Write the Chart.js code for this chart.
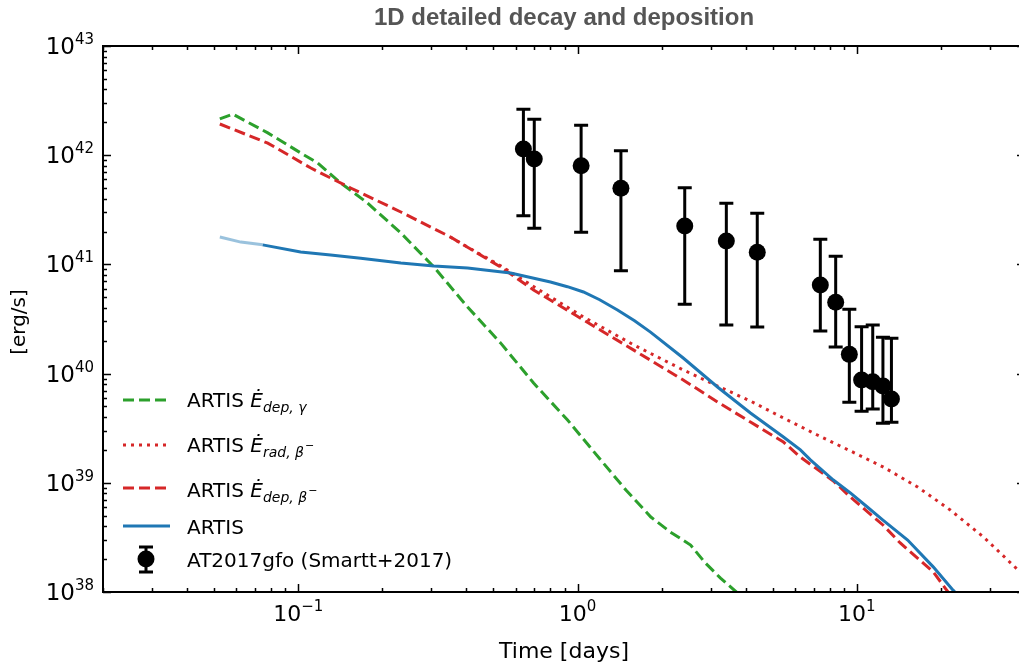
<!DOCTYPE html>
<html>
<head>
<meta charset="utf-8">
<title>1D detailed decay and deposition</title>
<script src="https://cdn.jsdelivr.net/npm/chart.js@4.4.1/dist/chart.umd.min.js"></script>
<style>
  html, body { margin: 0; padding: 0; background: #fff; overflow: hidden; }
  #wrap { width: 1040px; height: 669px; }
</style>
</head>
<body>
<div id="wrap"><canvas id="myChart" width="1040" height="669"></canvas></div>
<script>
// ARTIS gamma-ray deposition (days, erg/s)
const gammaTime = [0.0524, 0.0583, 0.0778, 0.102, 0.1175, 0.142, 0.177, 0.233, 0.306, 0.404, 0.53, 0.696, 0.921, 1.21, 1.49, 1.83, 2.15, 2.54, 2.87, 3.25, 3.77];
const gammaLum = [2.15e42, 2.38e42, 1.60e42, 1.05e42, 8.48e41, 5.56e41, 3.65e41, 1.94e41, 9.47e40, 4.07e40, 1.91e40, 8.20e39, 3.76e39, 1.62e39, 8.59e38, 4.86e38, 3.54e38, 2.69e38, 1.84e38, 1.34e38, 9.6e37];

// ARTIS beta-minus emitted (radioactive) power
const betaRadTime = [0.35, 0.53, 0.70, 1.05, 1.59, 2.39, 3.17, 4.16, 5.46, 7.22, 9.48, 12.4, 16.5, 21.6, 28.4, 37.5, 42];
const betaRadLum = [1.78e41, 9.7e40, 6.21e40, 3.30e40, 1.83e40, 1.08e40, 7.70e39, 5.61e39, 3.92e39, 2.74e39, 1.96e39, 1.40e39, 9.16e38, 5.63e38, 3.19e38, 1.62e38, 1.30e38];

// ARTIS beta-minus deposition
const betaDepTime = [0.0524, 0.0778, 0.111, 0.154, 0.233, 0.351, 0.53, 0.696, 1.05, 1.59, 2.39, 3.17, 4.16, 5.46, 6.28, 8.24, 9.48, 12.4, 14.3, 18.8, 21.6];
const betaDepLum = [1.93e42, 1.29e42, 7.63e41, 5.01e41, 3.02e41, 1.78e41, 9.47e40, 5.83e40, 3.10e40, 1.64e40, 8.74e39, 5.50e39, 3.60e39, 2.36e39, 1.72e39, 1.04e39, 7.41e38, 4.11e38, 2.81e38, 1.52e38, 9.4e37];

// ARTIS total
const artisTime = [0.0524, 0.0623, 0.0746, 0.102, 0.1306, 0.1674, 0.233, 0.306, 0.404, 0.576, 0.80, 0.92, 1.05, 1.20, 1.39, 1.60, 1.825, 2.39, 3.17, 4.16, 5.46, 6.28, 6.82, 8.24, 9.48, 10.9, 12.4, 15.2, 18.8, 22.1, 23.5];
const artisLum = [1.78e41, 1.60e41, 1.51e41, 1.30e41, 1.22e41, 1.14e41, 1.03e41, 9.67e40, 9.27e40, 8.34e40, 6.90e40, 6.25e40, 5.59e40, 4.75e40, 3.82e40, 3.05e40, 2.40e40, 1.39e40, 7.54e39, 4.36e39, 2.63e39, 2.00e39, 1.62e39, 1.06e39, 8.07e38, 6.0e38, 4.56e38, 2.99e38, 1.69e38, 1.04e38, 8.8e37];
const artisFadedUntil = 0.07;

// AT2017gfo bolometric (Smartt+2017)
const obsTime = [0.64, 0.70, 1.03, 1.43, 2.42, 3.41, 4.40, 7.40, 8.40, 9.40, 10.4, 11.4, 12.4, 13.3];
const obsLum = [1.14e42, 9.23e41, 8.02e41, 4.98e41, 2.25e41, 1.64e41, 1.29e41, 6.48e40, 4.50e40, 1.50e40, 8.74e39, 8.43e39, 7.70e39, 5.85e39];
const obsLumHigh = [2.63e42, 2.13e42, 1.88e42, 1.10e42, 5.04e41, 3.63e41, 2.94e41, 1.70e41, 1.19e41, 3.88e40, 2.69e40, 2.79e40, 2.15e40, 2.11e40];
const obsLumLow = [2.79e41, 2.14e41, 1.97e41, 8.75e40, 4.31e40, 2.79e40, 2.67e40, 2.45e40, 1.75e40, 5.46e39, 4.52e39, 4.74e39, 3.51e39, 3.58e39];

// axes
const xRange = [0.02, 40];
const yRange = [1e38, 1e43];
const xMajorTicks = [0.1, 1, 10];
const xTickExp = ['\u22121', '0', '1'];
const yMajorTicks = [1e38, 1e39, 1e40, 1e41, 1e42, 1e43];
const yTickExp = ['38', '39', '40', '41', '42', '43'];

const FONT = '"DejaVu Sans", sans-serif';

function pairs(xs, ys) {
  return xs.map((x, i) => ({ x: x, y: ys[i] }));
}

// minor ticks k*10^n inside a range
function minorTicks(min, max) {
  let out = [];
  for (let n = Math.floor(Math.log10(min)) - 1; n <= Math.ceil(Math.log10(max)); n++) {
    for (let k = 2; k <= 9; k++) {
      let v = k * Math.pow(10, n);
      if (v >= min * 0.999 && v <= max * 1.001) out.push(v);
    }
  }
  return out;
}

// "10" with a raised exponent
function drawPow(ctx, exp, x, baseY, align, baseSize, expSize, expRise) {
  ctx.font = baseSize + 'px ' + FONT;
  const wb = ctx.measureText('10').width;
  ctx.font = expSize + 'px ' + FONT;
  const we = ctx.measureText(exp).width;
  let x0 = align === 'right' ? x - wb - we : x - (wb + we) / 2;
  ctx.textAlign = 'left';
  ctx.font = baseSize + 'px ' + FONT;
  ctx.fillText('10', x0, baseY);
  ctx.font = expSize + 'px ' + FONT;
  ctx.fillText(exp, x0 + wb, baseY - expRise);
}

// legend label like  ARTIS E-dot_{sub}^{-}
function drawMathLabel(ctx, x, y, sub, minus) {
  ctx.textAlign = 'left';
  ctx.font = '20px ' + FONT;
  ctx.fillText('ARTIS ', x, y);
  let cx = x + ctx.measureText('ARTIS ').width;
  ctx.font = 'italic 20px ' + FONT;
  ctx.fillText('\u0116', cx, y);
  cx += ctx.measureText('\u0116').width;
  ctx.font = 'italic 14px ' + FONT;
  ctx.fillText(sub, cx, y + 5);
  cx += ctx.measureText(sub).width;
  if (minus) {
    ctx.font = '11px ' + FONT;
    ctx.fillText('\u2212', cx + 1, y - 3);
  }
}

const decor = {
  id: 'decor',
  beforeDatasetsDraw(chart) {
    const { ctx, scales: { x, y } } = chart;
    ctx.save();
    ctx.beginPath();
    ctx.rect(chart.chartArea.left, chart.chartArea.top, chart.chartArea.width, chart.chartArea.height);
    ctx.clip();
    ctx.strokeStyle = '#000';
    ctx.lineWidth = 3;
    obsTime.forEach((t, i) => {
      const px = x.getPixelForValue(t);
      const top = y.getPixelForValue(obsLumHigh[i]);
      const bot = y.getPixelForValue(obsLumLow[i]);
      ctx.beginPath();
      ctx.moveTo(px, top); ctx.lineTo(px, bot);
      ctx.moveTo(px - 7, top); ctx.lineTo(px + 7, top);
      ctx.moveTo(px - 7, bot); ctx.lineTo(px + 7, bot);
      ctx.stroke();
    });
    ctx.restore();
  },
  afterDraw(chart) {
    const { ctx, chartArea: a, scales: { x, y } } = chart;
    ctx.save();
    ctx.fillStyle = '#000';
    ctx.strokeStyle = '#000';

    // frame
    ctx.lineWidth = 2;
    ctx.strokeRect(a.left, a.top, a.right - a.left, a.bottom - a.top);

    // inward ticks on all four sides
    ctx.lineWidth = 1.5;
    ctx.beginPath();
    const xt = xMajorTicks.map(v => [v, 8]).concat(minorTicks(xRange[0], xRange[1]).map(v => [v, 4]));
    xt.forEach(([v, len]) => {
      const px = Math.round(x.getPixelForValue(v)) + 0.5;
      ctx.moveTo(px, a.bottom); ctx.lineTo(px, a.bottom - len);
      ctx.moveTo(px, a.top); ctx.lineTo(px, a.top + len);
    });
    const yt = yMajorTicks.map(v => [v, 8]).concat(minorTicks(yRange[0], yRange[1]).map(v => [v, 4]));
    yt.forEach(([v, len]) => {
      const py = Math.round(y.getPixelForValue(v)) + 0.5;
      ctx.moveTo(a.left, py); ctx.lineTo(a.left + len, py);
      ctx.moveTo(a.right, py); ctx.lineTo(a.right - len, py);
    });
    ctx.stroke();

    // tick labels
    ctx.fillStyle = '#000';
    xMajorTicks.forEach((v, i) => {
      drawPow(ctx, xTickExp[i], x.getPixelForValue(v), a.bottom + 29, 'center', 22, 15, 10);
    });
    yMajorTicks.forEach((v, i) => {
      drawPow(ctx, yTickExp[i], a.left - 9, y.getPixelForValue(v) + 8, 'right', 23, 15, 10);
    });

    // axis titles
    ctx.font = '22px ' + FONT;
    ctx.textAlign = 'center';
    ctx.fillText('Time [days]', (a.left + a.right) / 2, 658);
    ctx.save();
    ctx.translate(25, 322);
    ctx.rotate(-Math.PI / 2);
    ctx.font = '20px ' + FONT;
    ctx.fillText('[erg/s]', 0, 0);
    ctx.restore();

    // title
    ctx.fillStyle = '#555555';
    ctx.font = 'bold 24px "Liberation Sans", Arial, sans-serif';
    ctx.textAlign = 'center';
    ctx.fillText('1D detailed decay and deposition', (a.left + a.right) / 2, 25);

    // legend
    const ds = chart.data.datasets;
    const rows = [
      { d: ds[4], ly: 400 },
      { d: ds[3], ly: 445 },
      { d: ds[2], ly: 488 },
      { d: ds[1], ly: 526 }
    ];
    rows.forEach(r => {
      ctx.save();
      ctx.strokeStyle = r.d.borderColor;
      ctx.lineWidth = r.d.borderWidth;
      ctx.setLineDash(r.d.borderDash || []);
      ctx.beginPath();
      ctx.moveTo(123, r.ly); ctx.lineTo(170, r.ly);
      ctx.stroke();
      ctx.restore();
    });
    ctx.fillStyle = '#000';
    drawMathLabel(ctx, 187, 407, 'dep, \u03b3', false);
    drawMathLabel(ctx, 187, 452, 'rad, \u03b2', true);
    drawMathLabel(ctx, 187, 497, 'dep, \u03b2', true);
    ctx.font = '20px ' + FONT;
    ctx.textAlign = 'left';
    ctx.fillText('ARTIS', 187, 534);
    ctx.fillText('AT2017gfo (Smartt+2017)', 187, 567);
    // errorbar marker glyph
    ctx.lineWidth = 3;
    ctx.beginPath();
    ctx.moveTo(146, 547); ctx.lineTo(146, 572);
    ctx.moveTo(139, 547); ctx.lineTo(153, 547);
    ctx.moveTo(139, 572); ctx.lineTo(153, 572);
    ctx.stroke();
    ctx.beginPath();
    ctx.arc(146, 559, 8.5, 0, Math.PI * 2);
    ctx.fill();

    ctx.restore();
  }
};

const myChart = new Chart(document.getElementById('myChart'), {
  type: 'line',
  data: {
    datasets: [
      {
        label: 'AT2017gfo (Smartt+2017)',
        data: pairs(obsTime, obsLum),
        showLine: false,
        pointRadius: 8.5,
        pointBackgroundColor: '#000',
        pointBorderWidth: 0,
        order: 0
      },
      {
        label: 'ARTIS',
        data: pairs(artisTime, artisLum),
        borderColor: '#1f77b4',
        borderWidth: 3,
        pointRadius: 0,
        segment: {
          borderColor: c => c.p0.parsed.x < artisFadedUntil ? 'rgba(31,119,180,0.45)' : '#1f77b4'
        },
        order: 1
      },
      {
        label: 'ARTIS dep beta',
        data: pairs(betaDepTime, betaDepLum),
        borderColor: '#d62728',
        borderWidth: 3,
        borderDash: [11, 5],
        pointRadius: 0,
        order: 2
      },
      {
        label: 'ARTIS rad beta',
        data: pairs(betaRadTime, betaRadLum),
        borderColor: '#d62728',
        borderWidth: 3,
        borderDash: [3, 5],
        pointRadius: 0,
        order: 3
      },
      {
        label: 'ARTIS dep gamma',
        data: pairs(gammaTime, gammaLum),
        borderColor: '#2ca02c',
        borderWidth: 3,
        borderDash: [11, 5],
        pointRadius: 0,
        order: 4
      }
    ]
  },
  options: {
    responsive: false,
    animation: false,
    devicePixelRatio: 1,
    layout: { padding: { left: 103, top: 46, right: 15, bottom: 77 } },
    plugins: { legend: { display: false }, tooltip: { enabled: false }, title: { display: false } },
    elements: { line: { tension: 0 } },
    scales: {
      x: { type: 'logarithmic', min: xRange[0], max: xRange[1], display: false },
      y: { type: 'logarithmic', min: yRange[0], max: yRange[1], display: false }
    }
  },
  plugins: [decor]
});
</script>
</body>
</html>
